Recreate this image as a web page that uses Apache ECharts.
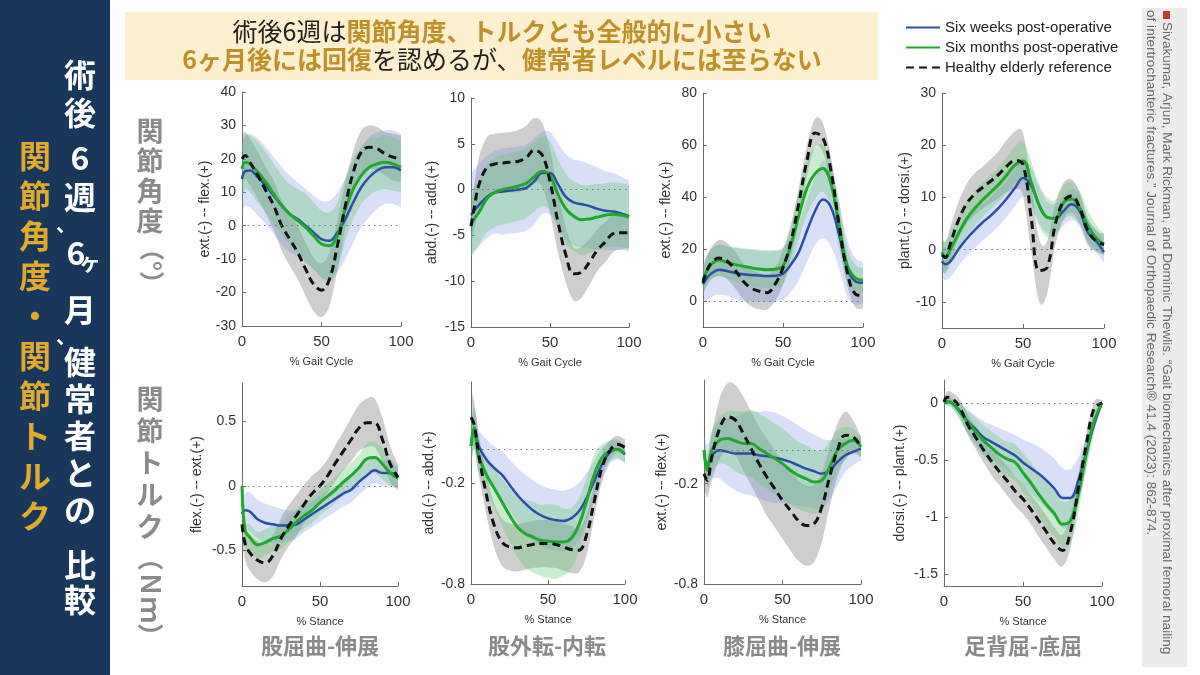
<!DOCTYPE html>
<html>
<head>
<meta charset="utf-8">
<script src="https://cdn.jsdelivr.net/npm/echarts@6/dist/echarts.min.js"></script>
<style>
  html, body { margin: 0; padding: 0; background: #fff; }
  #chart { width: 1200px; height: 675px; }
</style>
</head>
<body>
<div id="chart"></div>
<script>
// sample positions (% gait cycle / % stance)
const X = [0, 2, 5, 10, 15, 20, 25, 30, 35, 40, 45, 50, 55, 60, 65, 70, 75, 80, 85, 90, 95, 100];

// hip flexion-extension angle
const hipAngle6w = [14, 16.3, 16.5, 14.5, 12, 9, 6, 3.5, 2, 0, -2, -4, -4.5, -2, 2, 7, 11.5, 14.5, 16.5, 17.5, 17.5, 16.5];
const hipAngle6m = [17, 19, 18.5, 16, 13, 9.5, 6, 3.5, 1.5, -0.5, -3, -5.5, -6, -3, 5, 11, 15, 17.5, 18.5, 19, 18.5, 17.5];
const hipAngleRef = [20, 21, 19, 15, 10.5, 6, 0, -4, -8, -13, -17.5, -19.3, -16, -6, 6, 16, 22, 23.5, 23, 21.5, 20.5, 20];
const hipAngle6wSd = [10, 10.5, 11, 11.5, 11.5, 11.5, 11.5, 11.5, 11, 11, 11, 11.5, 12, 12, 12, 12, 12, 12, 11.5, 11, 11, 11];
const hipAngle6mSd = [8, 8, 8.5, 9, 9, 9, 9, 9, 9.5, 10, 10, 10, 10, 10, 9.5, 9, 8.5, 8.5, 8, 8, 8, 7.5];
const hipAngleRefSd = [7, 7, 7, 7, 7, 7.5, 7.5, 8, 8, 8, 8, 8, 8, 7.5, 7, 6.5, 6.5, 6.5, 6.5, 6.5, 7, 7];

// hip abduction-adduction angle
const hipAbdAngle6w = [-2.8, -2.3, -1.7, -0.8, -0.3, -0.2, -0.1, 0, 0.2, 0.9, 1.8, 1.8, 0.6, -0.8, -1.4, -1.6, -1.8, -2.1, -2.3, -2.4, -2.6, -2.9];
const hipAbdAngle6m = [-3.9, -3.2, -2.5, -1, -0.3, 0, 0.2, 0.4, 0.7, 1.4, 2, 1.5, -0.5, -2.1, -2.9, -3.3, -3.2, -3.0, -2.8, -2.7, -2.8, -3.0];
const hipAbdAngleRef = [-4, -2, 0.5, 2.4, 2.8, 2.9, 3, 3.1, 3.5, 4.3, 3.8, 0.9, -3.5, -7.1, -9.2, -9, -7.9, -6.6, -5.7, -4.8, -4.7, -4.7];
const hipAbdAngle6wSd = [4.5, 4.5, 4.5, 4.5, 4.5, 4.7, 4.7, 4.7, 4.7, 4.7, 4.5, 4.5, 4.5, 4.7, 4.7, 4.7, 4.6, 4.5, 4.3, 4.2, 4.0, 3.9];
const hipAbdAngle6mSd = [3.3, 3.5, 3.5, 3.7, 3.8, 3.8, 3.8, 3.8, 3.8, 3.8, 3.8, 3.8, 3.8, 3.8, 3.8, 3.8, 3.7, 3.6, 3.5, 3.5, 3.5, 3.5];
const hipAbdAngleRefSd = [2.3, 2.5, 3, 3.3, 3.3, 3.3, 3.3, 3.4, 3.5, 3.5, 3.5, 3.5, 3.3, 3.0, 2.9, 2.8, 2.5, 2.3, 2.2, 2, 1.8, 1.7];

// knee flexion-extension angle
const kneeAngle6w = [6.5, 8.5, 10.5, 12, 11.5, 10.8, 10.3, 10, 9.8, 9.6, 9.7, 10.5, 14, 19, 27, 34.5, 39, 36, 25.6, 12.8, 7.7, 7];
const kneeAngle6m = [8, 11, 14, 15.8, 14.8, 14, 13.4, 12.8, 12.3, 12, 12.2, 13.5, 21.8, 33, 43.5, 49, 51, 45, 29.5, 14, 9, 8];
const kneeAngleRef = [7, 11, 14.5, 16.5, 15.4, 12, 7.7, 5, 3.8, 3.2, 6.4, 12.8, 23, 38, 54, 64.6, 62.7, 50, 29.5, 11.5, 2.8, 2];
const kneeAngle6wSd = [8, 8.5, 9, 9.5, 9.5, 10, 10, 10, 10, 10, 10, 10, 10.5, 11, 12, 13, 15, 15, 13, 11, 9, 8];
const kneeAngle6mSd = [5, 5.5, 6, 6, 6, 6.5, 6.5, 7, 7, 7, 7, 7, 8, 9, 10, 10, 9, 9, 9, 7, 5, 4.5];
const kneeAngleRefSd = [5, 5.5, 6, 7, 7, 7, 7, 7, 7, 6.5, 6.5, 6.5, 6, 6, 6, 5.5, 5.5, 5.5, 5.5, 5, 5, 5];

// ankle dorsi-plantar flexion angle
const ankleAngle6w = [-2.2, -2.8, -2.3, 0, 2, 3.7, 5.2, 6.5, 8, 9.8, 11.8, 13.7, 12.3, 8.5, 6.2, 6, 7.4, 8.7, 7.4, 3.3, 1.7, -0.5];
const ankleAngle6m = [-0.5, -1.5, 0, 3, 5.8, 7.8, 9.5, 11, 12.5, 14.3, 16.2, 17, 13, 8.5, 6.2, 6, 9, 9.7, 8, 4.6, 2.3, 1];
const ankleAngleRef = [-1, -1.5, 1, 5.5, 8.7, 10.6, 11.9, 13.1, 14.4, 16, 17.1, 16.3, 6.2, -4, -3.3, 4.9, 9.3, 10.3, 8, 3.6, 1.7, 1];
const ankleAngle6wSd = [3, 3, 3, 3.2, 3.3, 3.5, 3.5, 3.5, 3.5, 3.5, 3.5, 3.5, 3.5, 3.5, 3, 2.8, 2.8, 3, 3, 2.5, 2.2, 2];
const ankleAngle6mSd = [3, 3, 3, 3.2, 3.3, 3.3, 3.3, 3.3, 3.3, 3.5, 3.5, 3.8, 4, 4, 3.8, 3.5, 3.3, 3.3, 3.2, 3, 2.5, 2];
const ankleAngleRefSd = [3, 3, 3.2, 3.5, 3.8, 4, 4, 4.2, 4.5, 5, 5.5, 6, 6.5, 6, 5, 4, 3.5, 3.2, 3, 2.5, 2, 2];

// hip flexion-extension moment
const hipMoment6w = [-0.22, -0.19, -0.2, -0.26, -0.29, -0.3, -0.31, -0.31, -0.3, -0.26, -0.22, -0.18, -0.14, -0.1, -0.06, -0.03, 0.03, 0.08, 0.12, 0.1, 0.1, 0.065];
const hipMoment6m = [0, -0.35, -0.4, -0.46, -0.44, -0.41, -0.39, -0.34, -0.28, -0.23, -0.19, -0.13, -0.08, -0.03, 0.03, 0.08, 0.14, 0.21, 0.22, 0.17, 0.1, 0.06];
const hipMomentRef = [-0.3, -0.45, -0.52, -0.58, -0.6, -0.54, -0.41, -0.31, -0.23, -0.14, -0.06, 0, 0.08, 0.18, 0.27, 0.36, 0.45, 0.49, 0.49, 0.36, 0.17, 0.065];
const hipMoment6wSd = [0.12, 0.13, 0.15, 0.15, 0.15, 0.14, 0.13, 0.12, 0.11, 0.1, 0.1, 0.1, 0.1, 0.1, 0.1, 0.1, 0.1, 0.1, 0.1, 0.1, 0.1, 0.08];
const hipMoment6mSd = [0.1, 0.1, 0.1, 0.1, 0.1, 0.1, 0.1, 0.1, 0.1, 0.1, 0.1, 0.1, 0.1, 0.1, 0.1, 0.1, 0.1, 0.12, 0.12, 0.12, 0.1, 0.08];
const hipMomentRefSd = [0.12, 0.13, 0.14, 0.15, 0.15, 0.16, 0.16, 0.16, 0.16, 0.15, 0.14, 0.13, 0.13, 0.14, 0.15, 0.17, 0.18, 0.19, 0.19, 0.17, 0.14, 0.1];

// hip abduction-adduction moment
const hipAbdMoment6w = [0.02, 0.12, 0.02, -0.06, -0.11, -0.15, -0.21, -0.27, -0.32, -0.36, -0.39, -0.41, -0.42, -0.425, -0.41, -0.37, -0.29, -0.19, -0.09, -0.02, 0, -0.03];
const hipAbdMoment6m = [0.02, 0.13, -0.04, -0.15, -0.23, -0.31, -0.39, -0.46, -0.5, -0.52, -0.54, -0.545, -0.55, -0.55, -0.53, -0.45, -0.31, -0.15, -0.05, -0.01, 0, -0.03];
const hipAbdMomentRef = [0.19, 0.15, -0.03, -0.27, -0.45, -0.55, -0.58, -0.585, -0.575, -0.565, -0.56, -0.56, -0.565, -0.58, -0.595, -0.6, -0.51, -0.31, -0.11, -0.01, 0.03, 0.01];
const hipAbdMoment6wSd = [0.12, 0.12, 0.1, 0.12, 0.13, 0.14, 0.15, 0.16, 0.17, 0.18, 0.18, 0.18, 0.18, 0.18, 0.18, 0.17, 0.15, 0.12, 0.1, 0.07, 0.06, 0.05];
const hipAbdMoment6mSd = [0.12, 0.12, 0.1, 0.1, 0.12, 0.14, 0.16, 0.18, 0.2, 0.21, 0.21, 0.22, 0.22, 0.2, 0.18, 0.16, 0.14, 0.12, 0.08, 0.06, 0.05, 0.05];
const hipAbdMomentRefSd = [0.15, 0.14, 0.12, 0.12, 0.13, 0.14, 0.14, 0.14, 0.14, 0.14, 0.14, 0.14, 0.14, 0.14, 0.14, 0.13, 0.12, 0.1, 0.08, 0.06, 0.05, 0.05];

// knee flexion-extension moment
const kneeMoment6w = [0, -0.09, -0.03, 0, -0.01, -0.02, -0.02, -0.02, -0.03, -0.035, -0.045, -0.055, -0.07, -0.09, -0.11, -0.125, -0.14, -0.12, -0.07, -0.03, -0.01, 0.01];
const kneeMoment6m = [0, -0.12, 0, 0.06, 0.07, 0.055, 0.04, 0.04, 0.01, -0.02, -0.05, -0.08, -0.12, -0.15, -0.17, -0.19, -0.18, -0.1, 0, 0.04, 0.06, 0.02];
const kneeMomentRef = [-0.14, -0.18, -0.04, 0.13, 0.2, 0.18, 0.1, 0.01, -0.08, -0.16, -0.23, -0.3, -0.36, -0.42, -0.45, -0.44, -0.34, -0.16, 0, 0.09, 0.08, 0.02];
const kneeMoment6wSd = [0.1, 0.12, 0.14, 0.17, 0.2, 0.22, 0.24, 0.25, 0.26, 0.27, 0.27, 0.26, 0.25, 0.24, 0.23, 0.22, 0.21, 0.18, 0.14, 0.1, 0.08, 0.07];
const kneeMoment6mSd = [0.08, 0.1, 0.12, 0.14, 0.16, 0.18, 0.19, 0.2, 0.21, 0.21, 0.21, 0.21, 0.21, 0.2, 0.2, 0.19, 0.18, 0.15, 0.12, 0.1, 0.07, 0.06];
const kneeMomentRefSd = [0.08, 0.1, 0.14, 0.18, 0.2, 0.21, 0.22, 0.22, 0.22, 0.23, 0.23, 0.23, 0.24, 0.24, 0.24, 0.23, 0.21, 0.18, 0.16, 0.14, 0.1, 0.06];

// ankle dorsi-plantar flexion moment
const ankleMoment6w = [0, 0.01, 0, -0.07, -0.16, -0.23, -0.3, -0.34, -0.38, -0.42, -0.46, -0.52, -0.57, -0.62, -0.68, -0.75, -0.83, -0.83, -0.68, -0.44, -0.19, 0];
const ankleMoment6m = [0, 0.01, 0, -0.08, -0.17, -0.25, -0.33, -0.39, -0.45, -0.49, -0.52, -0.61, -0.7, -0.8, -0.89, -0.97, -1.06, -1.03, -0.8, -0.45, -0.16, 0];
const ankleMomentRef = [0.01, 0.05, 0.04, -0.04, -0.19, -0.3, -0.41, -0.51, -0.6, -0.68, -0.77, -0.84, -0.93, -1.03, -1.13, -1.23, -1.29, -1.13, -0.75, -0.37, -0.05, 0];
const ankleMoment6wSd = [0.02, 0.03, 0.04, 0.07, 0.1, 0.12, 0.14, 0.15, 0.16, 0.17, 0.18, 0.2, 0.22, 0.24, 0.25, 0.26, 0.26, 0.25, 0.2, 0.14, 0.08, 0.02];
const ankleMoment6mSd = [0.02, 0.03, 0.04, 0.07, 0.1, 0.12, 0.13, 0.14, 0.15, 0.15, 0.16, 0.17, 0.18, 0.19, 0.2, 0.2, 0.2, 0.2, 0.17, 0.12, 0.07, 0.02];
const ankleMomentRefSd = [0.04, 0.05, 0.05, 0.07, 0.09, 0.1, 0.11, 0.12, 0.12, 0.13, 0.13, 0.13, 0.13, 0.14, 0.14, 0.14, 0.14, 0.14, 0.13, 0.1, 0.06, 0.03];

// y tick labels
const hipAngleTicks = [-30, -20, -10, 0, 10, 20, 30, 40];
const hipAbdAngleTicks = [-15, -10, -5, 0, 5, 10];
const kneeAngleTicks = [0, 20, 40, 60, 80];
const ankleAngleTicks = [-10, 0, 10, 20, 30];
const hipMomentTicks = [-0.5, 0, 0.5];
const hipAbdMomentTicks = [-0.8, -0.2];
const kneeMomentTicks = [-0.8, -0.2];
const ankleMomentTicks = [-1.5, -1, -0.5, 0];

const seriesNames = ['Six weeks post-operative', 'Six months post-operative', 'Healthy elderly reference'];
const jointNames = ['股屈曲-伸展', '股外転-内転', '膝屈曲-伸展', '足背屈-底屈'];

const LATIN = '"Liberation Sans", Arial, sans-serif';
const CJK = '"Noto Sans CJK JP", sans-serif';
const BLUE = '#2b4fa6', GREEN = '#1fa82c', BLACK = '#111';
const BLUE_BAND = 'rgba(120,140,225,0.28)';
const GREEN_BAND = 'rgba(90,200,110,0.32)';
const GRAY_BAND = 'rgba(110,110,110,0.34)';

const panels = [
  { yName: 'ext.(-) -- flex.(+)', xName: '% Gait Cycle', min: -30, max: 40, ticks: hipAngleTicks,
    w: hipAngle6w, m: hipAngle6m, r: hipAngleRef, ws: hipAngle6wSd, ms: hipAngle6mSd, rs: hipAngleRefSd,
    box: [242, 92, 159, 234], gap: 30 },
  { yName: 'abd.(-) -- add.(+)', xName: '% Gait Cycle', min: -15, max: 10, ticks: hipAbdAngleTicks,
    w: hipAbdAngle6w, m: hipAbdAngle6m, r: hipAbdAngleRef, ws: hipAbdAngle6wSd, ms: hipAbdAngle6mSd, rs: hipAbdAngleRefSd,
    box: [471, 98, 158, 229], gap: 32 },
  { yName: 'ext.(-) -- flex.(+)', xName: '% Gait Cycle', min: -10, max: 80, ticks: kneeAngleTicks,
    w: kneeAngle6w, m: kneeAngle6m, r: kneeAngleRef, ws: kneeAngle6wSd, ms: kneeAngle6mSd, rs: kneeAngleRefSd,
    box: [703, 93, 160, 234], gap: 30 },
  { yName: 'plant.(-) -- dorsi.(+)', xName: '% Gait Cycle', min: -15, max: 30, ticks: ankleAngleTicks,
    w: ankleAngle6w, m: ankleAngle6m, r: ankleAngleRef, ws: ankleAngle6wSd, ms: ankleAngle6mSd, rs: ankleAngleRefSd,
    box: [942, 93, 162, 235], gap: 30 },
  { yName: 'flex.(-) -- ext.(+)', xName: '% Stance', min: -0.78, max: 0.8, ticks: hipMomentTicks,
    w: hipMoment6w, m: hipMoment6m, r: hipMomentRef, ws: hipMoment6wSd, ms: hipMoment6mSd, rs: hipMomentRefSd,
    box: [242, 383, 156, 203], gap: 38 },
  { yName: 'add.(-) -- abd.(+)', xName: '% Stance', min: -0.8, max: 0.4, ticks: hipAbdMomentTicks,
    w: hipAbdMoment6w, m: hipAbdMoment6m, r: hipAbdMomentRef, ws: hipAbdMoment6wSd, ms: hipAbdMoment6mSd, rs: hipAbdMomentRefSd,
    box: [471, 382, 154, 202], gap: 35 },
  { yName: 'ext.(-) -- flex.(+)', xName: '% Stance', min: -0.8, max: 0.42, ticks: kneeMomentTicks,
    w: kneeMoment6w, m: kneeMoment6m, r: kneeMomentRef, ws: kneeMoment6wSd, ms: kneeMoment6mSd, rs: kneeMomentRefSd,
    box: [704, 380, 157, 204], gap: 35 },
  { yName: 'dorsi.(-) -- plant.(+)', xName: '% Stance', min: -1.6, max: 0.2, ticks: ankleMomentTicks,
    w: ankleMoment6w, m: ankleMoment6m, r: ankleMomentRef, ws: ankleMoment6wSd, ms: ankleMoment6mSd, rs: ankleMomentRefSd,
    box: [944, 380, 158, 206], gap: 37 }
];

// smooth cubic segments through pixel points (x stays monotone)
function curve(pts) {
  let d = '';
  for (let i = 0; i < pts.length - 1; i++) {
    const p0 = pts[Math.max(i - 1, 0)], p1 = pts[i], p2 = pts[i + 1], p3 = pts[Math.min(i + 2, pts.length - 1)];
    const s1 = (p2[1] - p0[1]) / (p2[0] - p0[0]);
    const s2 = (p3[1] - p1[1]) / (p3[0] - p1[0]);
    const dx = (p2[0] - p1[0]) / 3;
    d += ' C' + (p1[0] + dx) + ',' + (p1[1] + s1 * dx) + ' ' + (p2[0] - dx) + ',' + (p2[1] - s2 * dx) + ' ' + p2[0] + ',' + p2[1];
  }
  return d;
}

function bandPath(api, mean, sd) {
  const up = X.map((x, i) => api.coord([x, mean[i] + sd[i]]));
  const lo = X.map((x, i) => api.coord([x, mean[i] - sd[i]])).reverse();
  return 'M' + up[0][0] + ',' + up[0][1] + curve(up) + ' L' + lo[0][0] + ',' + lo[0][1] + curve(lo) + ' Z';
}

function band(gi, mean, sd, color) {
  return {
    type: 'custom', xAxisIndex: gi, yAxisIndex: gi, silent: true, clip: true, z: 2,
    data: [[0, 0]],
    renderItem: function (params, api) {
      return { type: 'path', shape: { pathData: bandPath(api, mean, sd) }, style: { fill: color } };
    }
  };
}

function line(gi, name, values, color, width, type) {
  return {
    type: 'line', name: name, xAxisIndex: gi, yAxisIndex: gi, z: 3,
    data: X.map((x, i) => [x, values[i]]),
    smooth: 0.4, symbol: 'none', silent: true,
    lineStyle: { color: color, width: width, type: type },
    itemStyle: { color: color }
  };
}

const axisLineStyle = { color: '#6a6a6a', width: 1 };

const grids = panels.map(p => ({ left: p.box[0], top: p.box[1], width: p.box[2], height: p.box[3] }));

const xAxes = panels.map((p, gi) => ({
  type: 'value', gridIndex: gi, min: 0, max: 100, interval: 50,
  name: p.xName, nameLocation: 'middle', nameGap: 30,
  nameTextStyle: { fontSize: 11, color: '#333', fontFamily: LATIN },
  axisLine: { show: true, onZero: false, lineStyle: axisLineStyle },
  axisTick: { show: true, inside: true, length: 4, lineStyle: axisLineStyle },
  axisLabel: { fontSize: 15, color: '#333', margin: 8, fontFamily: LATIN },
  splitLine: { show: false }
}));

const yAxes = panels.map((p, gi) => ({
  type: 'value', gridIndex: gi, min: p.min, max: p.max,
  name: p.yName, nameLocation: 'middle', nameGap: p.gap, nameRotate: 90,
  nameTextStyle: { fontSize: 14, color: '#333', fontFamily: LATIN },
  axisLine: { show: true, onZero: false, lineStyle: axisLineStyle },
  axisTick: { show: true, inside: true, length: 4, lineStyle: axisLineStyle, customValues: p.ticks },
  axisLabel: { fontSize: 14, color: '#333', margin: 6, fontFamily: LATIN, customValues: p.ticks },
  splitLine: { show: false }
}));

const series = [];
panels.forEach((p, gi) => {
  series.push(band(gi, p.r, p.rs, GRAY_BAND));
  series.push(band(gi, p.w, p.ws, BLUE_BAND));
  series.push(band(gi, p.m, p.ms, GREEN_BAND));
  series.push(line(gi, seriesNames[0], p.w, BLUE, 2.5, 'solid'));
  series.push(line(gi, seriesNames[1], p.m, GREEN, 3, 'solid'));
  const ref = line(gi, seriesNames[2], p.r, BLACK, 3, [8, 5]);
  ref.markLine = {
    silent: true, symbol: 'none', label: { show: false }, animation: false,
    lineStyle: { type: [1.5, 4], color: '#777', width: 1.2 },
    data: [{ yAxis: 0 }]
  };
  series.push(ref);
});

// vertical title characters on the navy band: [char, x, y, size]
const titleWhite = [
  ['術', 80, 75, 32], ['後', 80, 113, 32], ['6', 80, 158, 32], ['週', 80, 197, 32],
  ['、', 66, 224, 20], ['6', 76, 253, 32], ['ヶ', 90, 262, 22], ['月', 80, 310, 32],
  ['、', 66, 336, 20], ['健', 80, 362, 32], ['常', 80, 399, 32], ['者', 80, 436, 32],
  ['と', 80, 473, 32], ['の', 80, 510, 32], ['比', 80, 565, 32], ['較', 80, 600, 32]
];

const graphic = [
  // left navy band with vertical titles
  { type: 'rect', shape: { x: 0, y: 0, width: 110, height: 675 }, style: { fill: '#18375b' } },
  { type: 'text', x: 35, y: 136, style: {
      text: '関節角度・関節トルク'.split('').join('\n'),
      font: 'bold 32px ' + CJK, lineHeight: 40, fill: '#e2aa2c', align: 'center', verticalAlign: 'top' } },

  // headline banner
  { type: 'rect', shape: { x: 125, y: 12, width: 753, height: 68 }, style: { fill: '#fdf0cf' } },
  { type: 'text', x: 502, y: 31, style: {
      text: '{k|術後6週は}{g|関節角度、トルクとも全般的に小さい}', align: 'center', verticalAlign: 'middle',
      rich: { k: { font: '25px ' + CJK, fill: '#222' }, g: { font: 'bold 25px ' + CJK, fill: '#bf902a' } } } },
  { type: 'text', x: 502, y: 59, style: {
      text: '{g|6ヶ月後には回復}{k|を認めるが、}{g|健常者レベルには至らない}', align: 'center', verticalAlign: 'middle',
      rich: { k: { font: '25px ' + CJK, fill: '#222' }, g: { font: 'bold 25px ' + CJK, fill: '#bf902a' } } } },

  // row labels
  { type: 'text', x: 150, y: 116, style: {
      text: '関節角度'.split('').join('\n'), font: 'bold 27px ' + CJK, lineHeight: 30,
      fill: '#8a8a8a', align: 'center', verticalAlign: 'top' } },
  { type: 'text', x: 151, y: 236, rotation: -Math.PI / 2, style: {
      text: '（°）', font: 'bold 25px ' + CJK, fill: '#8a8a8a', align: 'left', verticalAlign: 'middle' } },
  { type: 'text', x: 150, y: 383, style: {
      text: '関節トルク'.split('').join('\n'), font: 'bold 27px ' + CJK, lineHeight: 32,
      fill: '#8a8a8a', align: 'center', verticalAlign: 'top' } },
  { type: 'text', x: 151, y: 545, rotation: -Math.PI / 2, style: {
      text: '（Ｎｍ）', font: 'bold 26px ' + CJK, fill: '#8a8a8a', align: 'left', verticalAlign: 'middle' } },

  // citation
  { type: 'rect', shape: { x: 1142, y: 8, width: 45, height: 659 }, style: { fill: '#ececec' } },
  { type: 'rect', shape: { x: 1163, y: 11, width: 7, height: 8 }, style: { fill: '#c43a2f' } },
  { type: 'text', x: 1167, y: 22, rotation: -Math.PI / 2, style: {
      text: 'Sivakumar, Arjun, Mark Rickman, and Dominic Thewlis. “Gait biomechanics after proximal femoral nailing',
      font: '13.6px ' + LATIN, fill: '#6a6a6a', align: 'left', verticalAlign: 'middle' } },
  { type: 'text', x: 1151, y: 10, rotation: -Math.PI / 2, style: {
      text: 'of intertrochanteric fractures.” Journal of Orthopaedic Research® 41.4 (2023): 862-874.',
      font: '13.6px ' + LATIN, fill: '#6a6a6a', align: 'left', verticalAlign: 'middle' } }
];

titleWhite.forEach(c => {
  graphic.push({ type: 'text', x: c[1], y: c[2], style: {
    text: c[0], font: 'bold ' + c[3] + 'px ' + CJK, fill: '#ffffff', align: 'center', verticalAlign: 'middle' } });
});

// joint names under each column
const jointX = [320, 547, 782, 1023];
jointNames.forEach((t, i) => {
  graphic.push({ type: 'text', x: jointX[i], y: 646, style: {
    text: t, font: 'bold 22px ' + CJK, fill: '#8a8a8a', align: 'center', verticalAlign: 'middle' } });
});

const chart = echarts.init(document.getElementById('chart'));
chart.setOption({
  animation: false,
  backgroundColor: '#ffffff',
  legend: {
    data: seriesNames, orient: 'vertical', left: 900, top: 15,
    itemWidth: 34, itemHeight: 14, itemGap: 5,
    itemStyle: { opacity: 0 },
    textStyle: { fontSize: 15, color: '#222', fontFamily: LATIN },
    selectedMode: false
  },
  grid: grids,
  xAxis: xAxes,
  yAxis: yAxes,
  series: series,
  graphic: graphic
});
</script>
</body>
</html>
